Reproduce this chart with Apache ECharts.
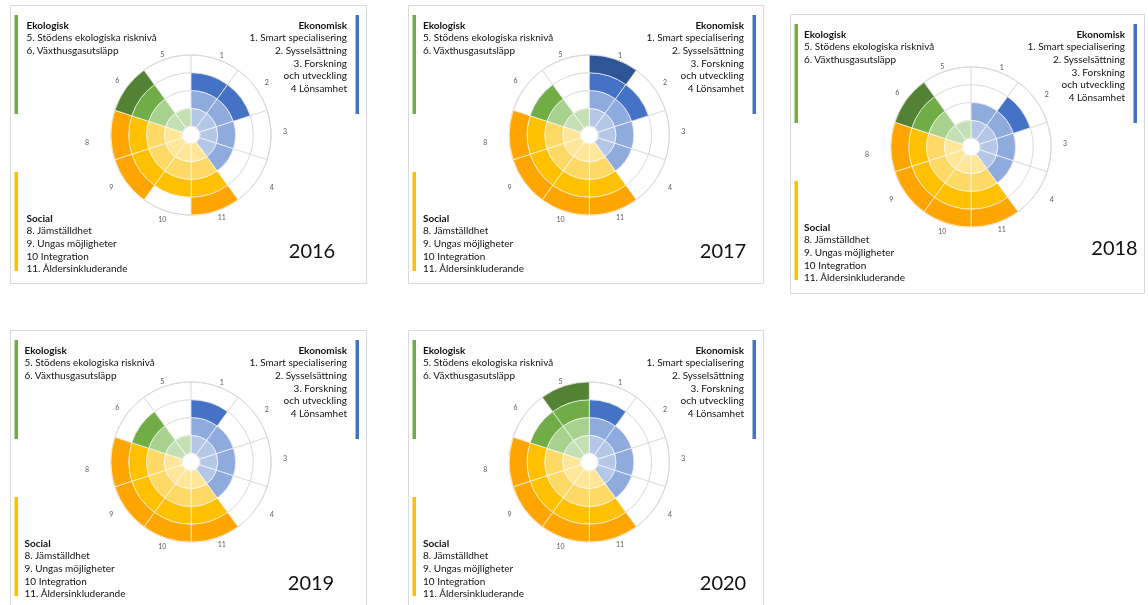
<!DOCTYPE html>
<html>
<head>
<meta charset="utf-8">
<script src="https://cdn.jsdelivr.net/npm/echarts@6/dist/echarts.min.js"></script>
<style>
html,body{margin:0;padding:0;background:#fff;}
#chart{width:1148px;height:605px;}
#chart svg{will-change:transform;}
#chart svg text{-webkit-font-smoothing:antialiased;}
</style>
</head>
<body>
<div id="chart"></div>
<script>
// ---- data ----
const categories = ['1', '2', '3', '4', '11', '10', '9', '8', '6', '5'];
const categoryGroup = ['ekonomisk', 'ekonomisk', 'ekonomisk', 'ekonomisk', 'social', 'social', 'social', 'social', 'ekologisk', 'ekologisk'];
const years = ['2016', '2017', '2018', '2019', '2020'];
const scores2016 = [3, 3, 2, 2, 4, 3, 4, 4, 4, 1];
const scores2017 = [4, 3, 2, 2, 4, 4, 4, 4, 3, 1];
const scores2018 = [2, 3, 2, 2, 4, 4, 4, 4, 4, 1];
const scores2019 = [3, 2, 2, 2, 4, 4, 4, 4, 3, 1];
const scores2020 = [3, 2, 2, 2, 4, 4, 4, 4, 3, 4];
const levels = [1, 2, 3, 4];
const ekologiskTitle = 'Ekologisk';
const ekologiskItems = ['5. Stödens ekologiska risknivå', '6. Växthusgasutsläpp'];
const ekonomiskTitle = 'Ekonomisk';
const ekonomiskItems = ['1. Smart specialisering', '2. Sysselsättning', '3. Forskning', 'och utveckling', '4 Lönsamhet'];
const socialTitle = 'Social';
const socialItems = ['8. Jämställdhet', '9. Ungas möjligheter', '10 Integration', '11. Åldersinkluderande'];

// ---- styling / layout ----
const palette = {
  ekonomisk: ['#b4c7e7', '#8faadc', '#4472c4', '#2f5597'],
  ekologisk: ['#c5e0b4', '#a9d18e', '#70ad47', '#548235'],
  social: ['#ffe699', '#ffd966', '#ffc000', '#ffa500']
};
// per-label padding [top, right, bottom, left] to mimic the label placement of the original
const labelPadding = [[0,0,0,4],[0,0,4,9],[0,0,8,12],[2,0,0,14],[3,0,0,2],[8,0,0,0],[2,13,0,0],[13,22,0,0],[0,7,7,0],[0,2,2,0]];
const allScores = [scores2016, scores2017, scores2018, scores2019, scores2020];
const panels = [
  {ox: 10, oy: 5, w: 356, h: 278, cx: 181, cy: 130, tl: 16.5, yx: 302, yy: 245},
  {ox: 408, oy: 5, w: 355, h: 278, cx: 181.3, cy: 130, tl: 15, yx: 315, yy: 245},
  {ox: 790, oy: 14, w: 354, h: 279, cx: 181, cy: 133, tl: 14, yx: 324.5, yy: 233},
  {ox: 10, oy: 330, w: 356, h: 285, cx: 181, cy: 132, tl: 14.5, yx: 301, yy: 252},
  {ox: 408, oy: 330, w: 355, h: 285, cx: 181.3, cy: 132, tl: 15, yx: 315, yy: 252}
];
const FONT = 'Lato, "Open Sans", sans-serif';
const gridColor = '#d9d9d9';
const tickLabelColor = '#595959';

const rich = {};
labelPadding.forEach((pad, k) => {
  rich['p' + k] = {padding: pad, color: tickLabelColor, fontSize: 7, fontFamily: FONT, lineHeight: 8};
});

const polar = [], angleAxis = [], radiusAxis = [], series = [], graphic = [];

panels.forEach((p, i) => {
  polar.push({center: [p.ox + p.cx, p.oy + p.cy], radius: [9, 80]});
  angleAxis.push({
    polarIndex: i, type: 'category', data: categories,
    startAngle: 90, clockwise: true, boundaryGap: true,
    axisLine: {show: true, lineStyle: {color: gridColor, width: 1}},
    axisTick: {show: false},
    axisLabel: {show: true, fontSize: 7, color: tickLabelColor, margin: 0, fontFamily: FONT,
      formatter: (v, idx) => '{p' + idx + '|' + v + '}', rich: rich},
    splitLine: {show: true, lineStyle: {color: gridColor, width: 1}},
    z: 1
  });
  radiusAxis.push({
    polarIndex: i, type: 'value', min: 0, max: 4, interval: 1,
    axisLine: {show: false}, axisTick: {show: false}, axisLabel: {show: false},
    splitLine: {show: true, lineStyle: {color: gridColor, width: 1}}
  });
  const scores = allScores[i];
  levels.forEach((lv) => {
    series.push({
      type: 'bar', coordinateSystem: 'polar', polarIndex: i, stack: 'p' + i,
      barCategoryGap: '0%', silent: true, animation: false,
      itemStyle: {borderColor: 'rgba(255,255,255,0.65)', borderWidth: 1},
      data: scores.map((s, k) => s >= lv
        ? {value: 1, itemStyle: {color: palette[categoryGroup[k]][lv - 1]}}
        : '-')
    });
  });

  // panel frame
  graphic.push({type: 'rect', shape: {x: p.ox + 0.5, y: p.oy + 0.5, width: p.w, height: p.h},
    style: {fill: 'none', stroke: '#d9d9d9', lineWidth: 1}, silent: true, z: 0});
  // colored side bars
  graphic.push({type: 'rect', shape: {x: p.ox + 4.5, y: p.oy + 10, width: 3.5, height: 99}, style: {fill: '#70ad47'}});
  graphic.push({type: 'rect', shape: {x: p.ox + p.w - 10.5, y: p.oy + 10, width: 3.5, height: 99}, style: {fill: '#4472c4'}});
  graphic.push({type: 'rect', shape: {x: p.ox + 4.5, y: p.oy + 167, width: 3.5, height: 99}, style: {fill: '#ffc000'}});

  const txt = (text, x, y, align, bold, size) => graphic.push({
    type: 'text', x: 0, y: 0,
    style: {text: text, x: x, y: y, fill: '#111', align: align, textAlign: align,
      verticalAlign: 'middle', textVerticalAlign: 'middle',
      font: (bold ? 'bold ' : '') + (size || 10) + 'px ' + FONT}
  });
  const lh = 12.7;
  txt(ekologiskTitle, p.ox + p.tl, p.oy + 19.5, 'left', true);
  ekologiskItems.forEach((t, j) => txt(t, p.ox + p.tl, p.oy + 19.5 + lh * (j + 1), 'left', false));
  const rx = p.ox + p.w - 19;
  txt(ekonomiskTitle, rx, p.oy + 19.5, 'right', true);
  ekonomiskItems.forEach((t, j) => txt(t, rx, p.oy + 19.5 + lh * (j + 1), 'right', false));
  txt(socialTitle, p.ox + p.tl, p.oy + 212.5, 'left', true);
  socialItems.forEach((t, j) => txt(t, p.ox + p.tl, p.oy + 212.5 + lh * (j + 1), 'left', false));
  graphic.push({type: 'text', style: {text: years[i], x: p.ox + p.yx, y: p.oy + p.yy, fill: '#111',
    align: 'center', textAlign: 'center', verticalAlign: 'middle', textVerticalAlign: 'middle',
    font: '20px ' + FONT}});
});

const chart = echarts.init(document.getElementById('chart'), null, {renderer: 'svg'});
chart.setOption({
  backgroundColor: '#ffffff',
  animation: false,
  polar: polar,
  angleAxis: angleAxis,
  radiusAxis: radiusAxis,
  series: series,
  graphic: graphic
});
</script>
</body>
</html>
